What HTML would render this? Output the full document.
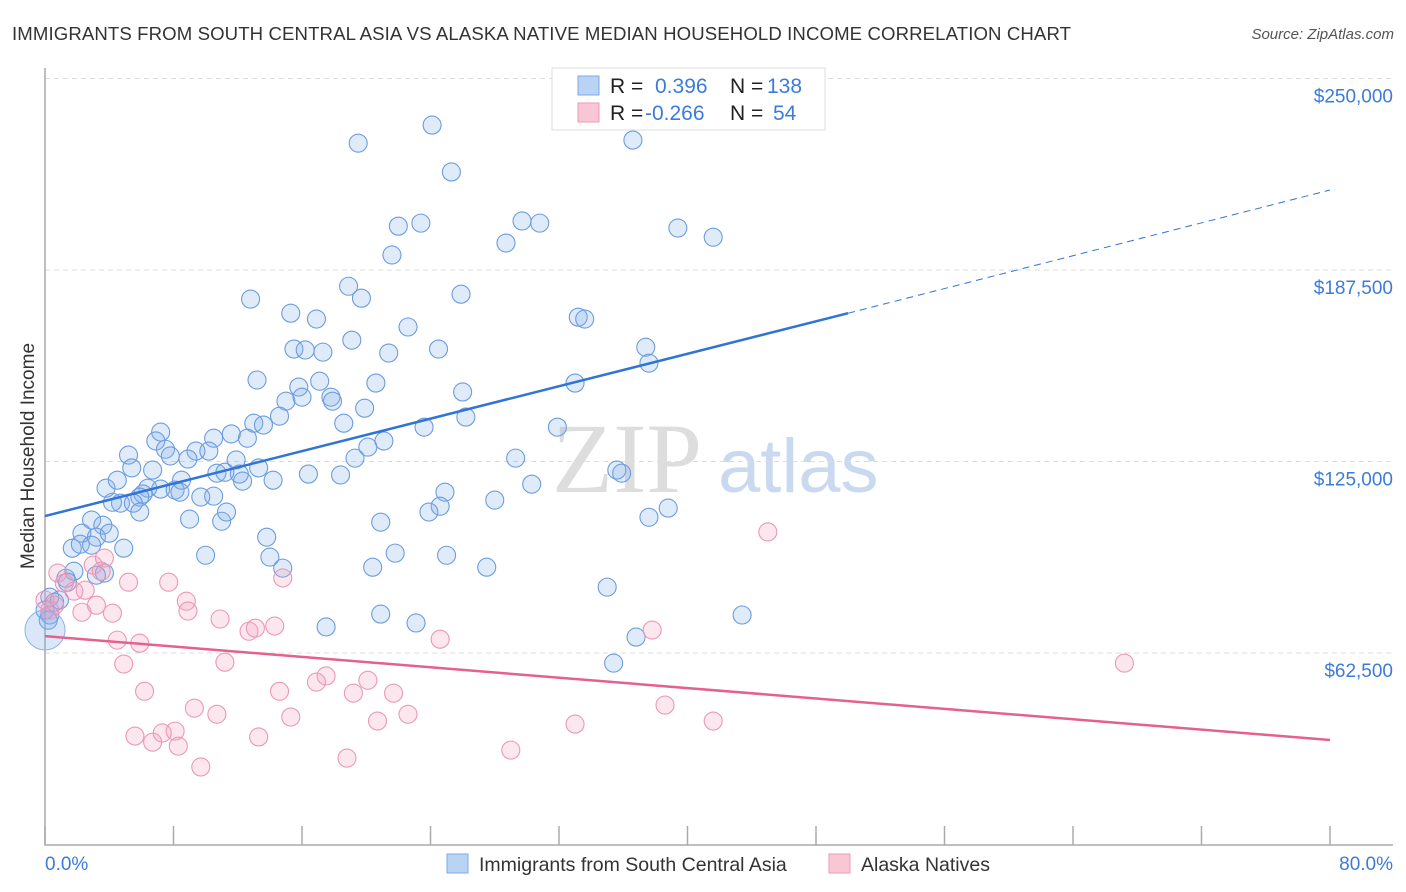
<!DOCTYPE html>
<html><head><meta charset="utf-8"><style>
body{margin:0;background:#fff;font-family:"Liberation Sans",sans-serif;}
svg{display:block}
</style></head><body>
<svg id="chart" width="1406" height="892">
<text x="12" y="40" font-size="18.6" fill="#333" textLength="1059">IMMIGRANTS FROM SOUTH CENTRAL ASIA VS ALASKA NATIVE MEDIAN HOUSEHOLD INCOME CORRELATION CHART</text>
<text x="1394" y="39" font-size="15" fill="#555" font-style="italic" text-anchor="end">Source: ZipAtlas.com</text>
<g><text x="552" y="492" font-size="100" fill="#ddd" font-family="Liberation Serif,serif">ZIP</text><text x="718" y="492" font-size="76" fill="#c9daf0">atlas</text></g>
<g id="grid"></g><g id="axes"></g><g id="pts"></g><g id="lines"></g>
<text transform="translate(34,456) rotate(-90)" font-size="19" fill="#333" text-anchor="middle">Median Household Income</text>
<text x="45" y="870" font-size="19" fill="#3d7bd9">0.0%</text>
<text x="1393" y="870" font-size="19" fill="#3d7bd9" text-anchor="end">80.0%</text>
<g>
<rect x="552" y="68" width="273" height="62" fill="#fff" stroke="#ddd"/>
<rect x="578" y="76" width="21" height="19" fill="#b9d3f5" stroke="#7ea9e4"/>
<rect x="578" y="103" width="21" height="19" fill="#f9c6d6" stroke="#ee9ab5"/>
<text x="610" y="93" font-size="21" fill="#222">R = </text><text x="655" y="93" font-size="21" fill="#3d7bd9">0.396</text>
<text x="730" y="93" font-size="21" fill="#222">N = </text><text x="767" y="93" font-size="21" fill="#3d7bd9">138</text>
<text x="610" y="120" font-size="21" fill="#222">R = </text><text x="645" y="120" font-size="21" fill="#3d7bd9">-0.266</text>
<text x="730" y="120" font-size="21" fill="#222">N = </text><text x="773" y="120" font-size="21" fill="#3d7bd9">54</text>
</g>
<g>
<rect x="447" y="854" width="21" height="19" fill="#b9d3f5" stroke="#7ea9e4"/>
<text x="479" y="871" font-size="19.5" fill="#333">Immigrants from South Central Asia</text>
<rect x="829" y="854" width="21" height="19" fill="#f9c6d6" stroke="#ee9ab5"/>
<text x="861" y="871" font-size="19.5" fill="#333">Alaska Natives</text>
</g>
</svg>
<script>
const yTicks=[62500,125000,187500,250000];
const yTickLabels=["$62,500","$125,000","$187,500","$250,000"];
const xTicks=[0,8,16,24,32,40,48,56,64,72,80];
const blueX=[19.5,24.1,25.3,36.6,29.7,30.8,23.4,22.0,28.7,39.4,41.6,21.6,12.8,18.9,19.7,25.9,15.3,16.9,22.6,33.2,33.6,19.1,15.5,16.2,17.3,21.4,24.5,37.4,37.6,13.2,15.8,17.1,20.6,33.0,26.0,15.0,16.0,17.8,17.9,19.9,18.6,14.6,13.0,13.6,26.2,23.6,31.9,21.1,20.1,19.3,7.2,6.9,10.5,11.6,12.6,7.5,9.4,8.9,7.8,10.2,5.2,5.4,6.7,11.9,12.1,13.3,10.7,11.2,16.4,18.4,14.2,12.3,8.5,3.8,4.5,6.4,7.2,8.1,9.7,6.1,5.9,10.5,4.7,5.5,4.2,8.4,29.3,30.3,35.6,35.9,24.9,28.0,24.6,23.9,20.9,38.8,37.6,9.0,11.0,11.3,5.9,2.9,3.6,2.3,3.2,4.0,13.8,1.7,2.2,4.9,2.9,10.0,14.0,21.8,25.0,20.4,27.5,14.8,1.8,3.7,1.3,3.2,1.4,35.0,0.3,0.6,0.9,0,0.3,0.2,20.9,23.1,17.5,43.4,36.8,35.4];
const blueY=[228.9,234.8,219.5,229.9,203.5,202.8,202.8,201.8,196.3,201.2,198.2,192.4,178.0,182.2,178.3,179.6,173.4,171.5,168.9,172.1,171.5,164.6,161.7,161.4,160.7,160.4,161.7,162.3,157.1,151.6,149.3,151.2,150.6,150.6,147.7,144.7,146.0,146.0,144.7,142.4,137.5,139.8,137.5,136.9,139.5,136.2,136.2,131.7,129.7,126.1,134.6,131.7,132.6,134.0,132.6,129.0,128.4,125.8,126.8,128.4,127.1,122.9,122.2,125.5,120.9,122.9,121.2,121.5,120.9,120.6,118.9,118.6,118.9,116.3,118.9,116.3,116.0,115.7,113.4,114.4,113.4,113.7,111.4,111.4,111.7,115.0,126.1,117.6,122.2,121.2,115.0,112.4,110.4,108.5,105.2,109.8,106.8,106.2,105.5,108.5,108.5,105.9,104.2,101.6,100.3,101.6,100.3,96.7,98.0,96.7,97.7,94.4,93.8,95.1,94.4,90.5,90.5,90.2,89.2,88.6,86.9,87.9,85.6,84.0,80.7,79.1,79.8,76.5,74.9,73.2,75.2,72.3,71.0,74.9,67.7,59.2];
const pinkX=[45.0,67.2,0.8,3.0,1.2,2.5,3.7,5.2,7.7,8.8,8.9,3.2,2.3,4.2,0,0.6,0.3,10.9,12.7,13.1,14.3,14.8,24.6,37.8,4.5,5.9,4.9,11.2,17.5,16.9,20.1,6.2,14.6,19.2,21.7,9.3,10.7,15.3,20.7,22.6,33.0,41.6,38.6,5.6,6.7,7.3,8.1,8.3,13.3,29.0,18.8,9.7,1.8,3.5];
const pinkY=[102.0,59.2,88.6,91.2,85.3,83.0,93.5,85.6,85.6,79.4,76.2,78.1,75.8,75.5,79.8,78.1,76.5,73.6,69.6,70.6,71.3,87.0,67.0,70.0,66.7,65.7,58.9,59.5,55.0,53.0,53.6,50.0,50.0,49.4,49.4,44.5,42.5,41.6,40.3,42.5,39.3,40.3,45.5,35.4,33.4,36.4,37.0,32.1,35.1,30.8,28.2,25.3,82.7,89.2];
const blueFit=[[0,107.2],[50,173.4],[80,213.6]];
const pinkFit=[[0,68.0],[80,34.1]];
const NS="http://www.w3.org/2000/svg";
const X=p=>45+p*16.0625;
const Y=k=>653-(k-62.5)/62.5*191.5;
function mk(tag,attrs,parent){const e=document.createElementNS(NS,tag);for(const k in attrs)e.setAttribute(k,attrs[k]);document.getElementById(parent).appendChild(e);return e;}
yTicks.forEach((v,i)=>{
 const l=mk('line',{x1:45,x2:1393,y1:Y(v/1000),y2:Y(v/1000),stroke:'#ddd','stroke-dasharray':'5,4'},'grid');
 
 
 const t=mk('text',{x:1393,y:Y(v/1000)+24,'font-size':19,fill:'#3d7bd9','text-anchor':'end'},'grid');
 t.textContent=yTickLabels[i];
 
 
});
const ax=mk('path',{d:'M45,68 V845 H1393',fill:'none',stroke:'#aaa','stroke-width':1.5},'axes');


xTicks.forEach(p=>{
 const t=mk('line',{x1:X(p),x2:X(p),y1:826,y2:845,stroke:'#aaa','stroke-width':1.5},'axes');
 
 
});
blueX.forEach((x,i)=>{
 const c=mk('circle',{cx:X(x),cy:Y(blueY[i]),r:9,fill:'rgba(130,175,235,0.25)',stroke:'#6b9cdf','stroke-width':1.1},'pts');
 
 
});
const big=mk('circle',{cx:X(0),cy:Y(70),r:20,fill:'rgba(130,175,235,0.3)',stroke:'#8fb3e6','stroke-width':1},'pts');


pinkX.forEach((x,i)=>{
 const c=mk('circle',{cx:X(x),cy:Y(pinkY[i]),r:9,fill:'rgba(245,160,190,0.25)',stroke:'#ec97b5','stroke-width':1.1},'pts');
 
 
});
const b1=mk('line',{x1:X(blueFit[0][0]),y1:Y(blueFit[0][1]),x2:X(blueFit[1][0]),y2:Y(blueFit[1][1]),stroke:'#2f74d6','stroke-width':2.5},'lines');


const b2=mk('line',{x1:X(blueFit[1][0]),y1:Y(blueFit[1][1]),x2:X(blueFit[2][0]),y2:Y(blueFit[2][1]),stroke:'#2f74d6','stroke-width':1,'stroke-dasharray':'7,5'},'lines');


const p1=mk('line',{x1:X(pinkFit[0][0]),y1:Y(pinkFit[0][1]),x2:X(pinkFit[1][0]),y2:Y(pinkFit[1][1]),stroke:'#e4608e','stroke-width':2.5},'lines');


</script>
</body></html>
